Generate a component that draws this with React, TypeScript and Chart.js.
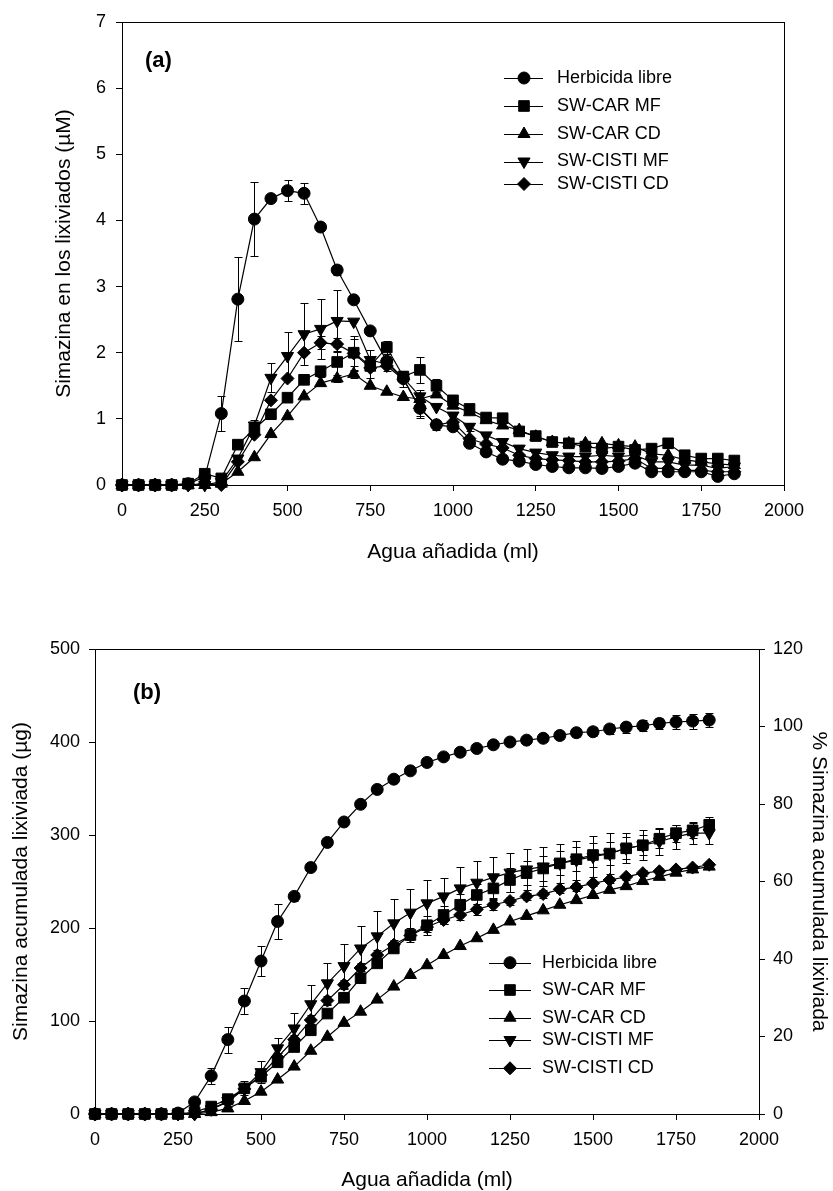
import React, { useEffect, useRef } from 'react';
import { Chart, registerables } from 'chart.js';
import { drawPoint } from 'chart.js/helpers';

Chart.register(...registerables);
Chart.defaults.font.family = '"Liberation Sans", Arial, Helvetica, sans-serif';
Chart.defaults.color = '#000';

// ---------------- data ----------------
const WATER_ML = [0, 50, 100, 150, 200, 250, 300, 350, 400, 450, 500, 550, 600, 650, 700, 750, 800, 850, 900, 950, 1000, 1050, 1100, 1150, 1200, 1250, 1300, 1350, 1400, 1450, 1500, 1550, 1600, 1650, 1700, 1750, 1800, 1850];

const SERIES_NAMES = ['Herbicida libre', 'SW-CAR MF', 'SW-CAR CD', 'SW-CISTI MF', 'SW-CISTI CD'];

const X_TICKS = [0, 250, 500, 750, 1000, 1250, 1500, 1750, 2000];
const Y_TICKS_A = [0, 1, 2, 3, 4, 5, 6, 7];
const Y_TICKS_B = [0, 100, 200, 300, 400, 500];
const Y2_TICKS_B = [0, 20, 40, 60, 80, 100, 120];

// Panel (a): Simazina en los lixiviados (µM)
const HERB_A = [0, 0, 0, 0, 0.02, 0.12, 1.08, 2.81, 4.02, 4.33, 4.45, 4.41, 3.9, 3.25, 2.8, 2.33, 1.87, 1.61, 1.16, 0.91, 0.88, 0.63, 0.5, 0.39, 0.36, 0.31, 0.28, 0.26, 0.26, 0.25, 0.28, 0.33, 0.2, 0.2, 0.2, 0.2, 0.13, 0.17];
const CARMF_A = [0, 0, 0, 0, 0.02, 0.17, 0.1, 0.61, 0.85, 1.07, 1.32, 1.59, 1.72, 1.86, 2.0, 1.8, 2.08, 1.64, 1.74, 1.5, 1.28, 1.15, 1.02, 1.01, 0.81, 0.74, 0.65, 0.63, 0.58, 0.55, 0.58, 0.53, 0.55, 0.63, 0.45, 0.4, 0.4, 0.37];
const CARCD_A = [0, 0, 0, 0, 0, 0, 0.02, 0.2, 0.42, 0.77, 1.04, 1.34, 1.54, 1.61, 1.68, 1.5, 1.41, 1.33, 1.3, 1.37, 1.2, 1.1, 0.98, 0.9, 0.83, 0.73, 0.65, 0.63, 0.63, 0.63, 0.6, 0.58, 0.47, 0.45, 0.38, 0.35, 0.32, 0.3];
const CISTIMF_A = [0, 0, 0, 0, 0, 0, 0.05, 0.4, 0.9, 1.62, 1.95, 2.28, 2.36, 2.48, 2.47, 1.89, 1.83, 1.62, 1.34, 1.18, 1.05, 0.88, 0.75, 0.65, 0.55, 0.49, 0.45, 0.43, 0.43, 0.45, 0.43, 0.45, 0.35, 0.35, 0.3, 0.3, 0.25, 0.28];
const CISTICD_A = [0, 0, 0, 0, 0, 0.02, 0, 0.35, 0.76, 1.28, 1.61, 2.0, 2.15, 2.13, 1.99, 1.77, 1.8, 1.6, 1.16, 0.91, 0.95, 0.7, 0.62, 0.56, 0.45, 0.4, 0.38, 0.37, 0.35, 0.35, 0.36, 0.4, 0.25, 0.25, 0.22, 0.22, 0.2, 0.2];

const HERB_A_ERR = [0, 0, 0, 0, 0, 0, 0.26, 0.63, 0.56, 0, 0.16, 0.16, 0, 0.07, 0, 0, 0, 0, 0.15, 0.08, 0, 0, 0, 0, 0, 0, 0, 0, 0, 0, 0, 0, 0, 0, 0, 0, 0, 0];
const CARMF_A_ERR = [0, 0, 0, 0, 0, 0, 0, 0, 0, 0, 0, 0, 0.08, 0.22, 0.2, 0, 0.1, 0, 0.2, 0.1, 0.08, 0.07, 0.07, 0.05, 0, 0, 0, 0, 0, 0, 0, 0, 0, 0.07, 0, 0, 0, 0];
const CARCD_A_ERR = [0, 0, 0, 0, 0, 0, 0, 0, 0, 0, 0, 0, 0, 0.06, 0.06, 0, 0, 0, 0, 0, 0, 0, 0, 0, 0, 0, 0, 0, 0, 0, 0, 0, 0, 0, 0, 0, 0, 0];
const CISTIMF_A_ERR = [0, 0, 0, 0, 0, 0, 0, 0, 0.08, 0.22, 0.36, 0.47, 0.45, 0.47, 0, 0.15, 0.1, 0, 0.1, 0, 0.05, 0.06, 0, 0, 0, 0, 0, 0, 0, 0, 0, 0, 0, 0, 0, 0, 0, 0];
const CISTICD_A_ERR = [0, 0, 0, 0, 0, 0, 0, 0, 0, 0, 0, 0, 0.1, 0.1, 0.26, 0.15, 0, 0.12, 0.12, 0, 0, 0, 0, 0, 0, 0, 0, 0, 0, 0, 0, 0, 0, 0, 0, 0, 0, 0];

// Panel (b): Simazina acumulada lixiviada (µg)
const HERB_B = [0, 0, 0, 0, 0, 1, 13, 41, 80, 121.5, 164.5, 207, 234, 265, 292, 314, 333, 349, 360, 369, 378, 384, 389, 393, 397, 400, 402, 404, 407, 410, 411, 414, 416, 417.5, 420, 421.5, 422.5, 423.6];
const CARMF_B = [0, 0, 0, 0, 0, 0, 2, 8, 16, 27.6, 40, 55.6, 72, 90, 108, 125, 146, 162, 178, 192.5, 203, 214, 225, 235.5, 242.6, 251.6, 259, 264, 269.5, 274, 278.5, 280, 285.7, 289, 296, 302, 305, 311];
const CARCD_B = [0, 0, 0, 0, 0, 0, 0, 2, 6, 14, 24, 37, 51, 68, 83, 98, 110, 123, 137, 149.5, 160, 171, 180.6, 189, 198, 207, 213, 219, 225, 230, 235.5, 241, 245, 250.5, 255, 259.5, 263, 266];
const CISTIMF_B = [0, 0, 0, 0, 0, 0, 0, 5, 14, 28, 45, 70.6, 92, 118, 140.5, 159, 178, 191, 205, 216.5, 226.5, 234, 242.6, 248.7, 254.5, 259.5, 263, 266, 269.5, 273, 276.7, 280, 285.7, 289, 293, 298, 302, 302];
const CISTICD_B = [0, 0, 0, 0, 0, 0, 0, 5, 13, 27, 42, 61, 80, 101, 122, 139, 157, 171, 182, 192, 201, 208.6, 214, 220, 225, 229, 234, 236.5, 241.6, 244, 248, 251.6, 255, 259, 261, 263, 265, 268];

const HERB_B_ERR = [0, 0, 0, 0, 0, 0, 0, 9, 14, 14, 16, 19, 5, 0, 0, 0, 0, 0, 0, 0, 0, 0, 0, 0, 0, 3, 3, 4, 4, 5, 5, 5, 6, 6, 6, 7, 8, 8];
const CARMF_B_ERR = [0, 0, 0, 0, 0, 0, 0, 0, 0, 0, 0, 0, 0, 0, 0, 0, 0, 0, 0, 8, 10, 10, 12, 12, 12, 13, 13, 13, 13, 13, 13, 12, 12, 11, 10, 9, 8, 8];
const CARCD_B_ERR = [0, 0, 0, 0, 0, 0, 0, 0, 0, 0, 0, 0, 0, 0, 0, 0, 0, 0, 0, 0, 0, 0, 0, 0, 0, 0, 0, 0, 0, 0, 0, 0, 0, 0, 0, 0, 0, 0];
const CISTIMF_B_ERR = [0, 0, 0, 0, 0, 0, 0, 4, 6, 8, 12, 11, 17, 21, 22, 24, 24, 27, 26, 25, 25, 20, 23, 23, 22, 21, 22, 21, 21, 21, 22, 22, 16, 16, 15, 13, 12, 12];
const CISTICD_B_ERR = [0, 0, 0, 0, 0, 0, 0, 0, 0, 0, 0, 5, 5, 5, 5, 5, 5, 5, 5, 5, 5, 4, 5, 6, 6, 4, 4, 4, 4, 4, 3, 3, 3, 3, 3, 3, 3, 3];

// ---------------- styling ----------------
const MARKERS = [
  { style: 'circle', radius: 6, rotation: 0 },
  { style: 'rect', radius: 7.5, rotation: 0 },
  { style: 'triangle', radius: 7, rotation: 0 },
  { style: 'triangle', radius: 7, rotation: 180 },
  { style: 'rectRot', radius: 6.5, rotation: 0 },
];

const TICK_FONT = { size: 18 };
const TITLE_FONT = { size: 21 };
const plainLabel = (v: any) => String(v);

function makeDatasets(series: number[][]) {
  return series.map((vals, k) => ({
    label: SERIES_NAMES[k],
    data: WATER_ML.map((x, i) => ({ x, y: vals[i] })),
    borderColor: '#000',
    backgroundColor: '#000',
    borderWidth: 1.2,
    pointStyle: MARKERS[k].style,
    pointRadius: MARKERS[k].radius,
    pointHoverRadius: MARKERS[k].radius,
    pointRotation: MARKERS[k].rotation,
    pointBackgroundColor: '#000',
    pointBorderColor: '#000',
    pointBorderWidth: 1,
    tension: 0,
    fill: false,
    clip: false,
    yAxisID: 'y',
  }));
}

function errorBarPlugin(errors: number[][]) {
  return {
    id: 'errorBars',
    beforeDatasetsDraw(chart: any) {
      const ctx = chart.ctx;
      const xs = chart.scales.x;
      const ys = chart.scales.y;
      ctx.save();
      ctx.strokeStyle = '#000';
      ctx.lineWidth = 1;
      errors.forEach((arr, di) => {
        const d = chart.data.datasets[di].data;
        arr.forEach((e, i) => {
          if (!e) return;
          const px = Math.round(xs.getPixelForValue(d[i].x)) + 0.5;
          const top = Math.round(ys.getPixelForValue(d[i].y + e)) + 0.5;
          const bot = Math.round(ys.getPixelForValue(Math.max(d[i].y - e, 0))) + 0.5;
          ctx.beginPath();
          ctx.moveTo(px, top);
          ctx.lineTo(px, bot);
          ctx.moveTo(px - 4, top);
          ctx.lineTo(px + 4, top);
          ctx.moveTo(px - 4, bot);
          ctx.lineTo(px + 4, bot);
          ctx.stroke();
        });
      });
      ctx.restore();
    },
  };
}

const framePlugin = {
  id: 'frame',
  beforeDatasetsDraw(chart: any) {
    const { left, right, top, bottom } = chart.chartArea;
    const ctx = chart.ctx;
    ctx.save();
    ctx.strokeStyle = '#000';
    ctx.lineWidth = 1;
    ctx.strokeRect(Math.round(left) + 0.5, Math.round(top) + 0.5, Math.round(right - left), Math.round(bottom - top));
    ctx.restore();
  },
};

function legendPlugin(pos: { lineX1: number; lineX2: number; markX: number; textX: number; rows: number[] }, tag: string, tagPos: { x: number; y: number }) {
  return {
    id: 'customLegend',
    afterDraw(chart: any) {
      const ctx = chart.ctx;
      ctx.save();
      ctx.fillStyle = '#000';
      ctx.strokeStyle = '#000';
      ctx.font = '18px "Liberation Sans", Arial, sans-serif';
      ctx.textBaseline = 'middle';
      ctx.textAlign = 'left';
      SERIES_NAMES.forEach((name, k) => {
        const y = pos.rows[k];
        ctx.lineWidth = 1.2;
        ctx.beginPath();
        ctx.moveTo(pos.lineX1, Math.round(y) + 0.5);
        ctx.lineTo(pos.lineX2, Math.round(y) + 0.5);
        ctx.stroke();
        ctx.lineWidth = 1;
        drawPoint(ctx, { pointStyle: MARKERS[k].style, radius: MARKERS[k].radius, rotation: MARKERS[k].rotation, borderWidth: 1 } as any, pos.markX, y);
        ctx.fillText(name, pos.textX, y);
      });
      ctx.font = 'bold 22px "Liberation Sans", Arial, sans-serif';
      ctx.fillText(tag, tagPos.x, tagPos.y);
      ctx.restore();
    },
  };
}

const axisGrid = { display: true, drawOnChartArea: false, drawTicks: true, tickLength: 6, color: '#000', tickColor: '#000', lineWidth: 1 };
const axisBorder = { display: true, color: '#000', width: 1 };

function configA(): any {
  return {
    type: 'line',
    data: { datasets: makeDatasets([HERB_A, CARMF_A, CARCD_A, CISTIMF_A, CISTICD_A]) },
    options: {
      animation: false,
      responsive: false,
      events: [],
      layout: { padding: { left: 0, top: 22, right: 49, bottom: 0 } },
      plugins: { legend: { display: false }, tooltip: { enabled: false } },
      scales: {
        x: {
          type: 'linear', min: 0, max: 2000,
          afterBuildTicks: (s: any) => { s.ticks = X_TICKS.map((v) => ({ value: v })); },
          ticks: { font: TICK_FONT, color: '#000', padding: 9, maxRotation: 0, autoSkip: false, callback: plainLabel },
          grid: axisGrid, border: axisBorder,
          title: { display: true, text: 'Agua añadida (ml)', font: TITLE_FONT, color: '#000', padding: { top: 0, bottom: 30 } },
          afterFit: (s: any) => { s.height = 110; },
        },
        y: {
          type: 'linear', min: 0, max: 7,
          afterBuildTicks: (s: any) => { s.ticks = Y_TICKS_A.map((v) => ({ value: v })); },
          ticks: { font: TICK_FONT, color: '#000', padding: 10, callback: plainLabel },
          grid: axisGrid, border: axisBorder,
          title: { display: true, text: 'Simazina en los lixiviados (µM)', font: TITLE_FONT, color: '#000', padding: { top: 52, bottom: 0 } },
          afterFit: (s: any) => { s.width = 122; },
        },
      },
    },
    plugins: [
      framePlugin,
      errorBarPlugin([HERB_A_ERR, CARMF_A_ERR, CARCD_A_ERR, CISTIMF_A_ERR, CISTICD_A_ERR]),
      legendPlugin({ lineX1: 504, lineX2: 543, markX: 524, textX: 557, rows: [78, 106, 134, 161.5, 184] }, '(a)', { x: 145, y: 61 }),
    ],
  };
}

function configB(): any {
  return {
    type: 'line',
    data: { datasets: makeDatasets([HERB_B, CARMF_B, CARCD_B, CISTIMF_B, CISTICD_B]) },
    options: {
      animation: false,
      responsive: false,
      events: [],
      layout: { padding: { left: 0, top: 54, right: 0, bottom: 0 } },
      plugins: { legend: { display: false }, tooltip: { enabled: false } },
      scales: {
        x: {
          type: 'linear', min: 0, max: 2000,
          afterBuildTicks: (s: any) => { s.ticks = X_TICKS.map((v) => ({ value: v })); },
          ticks: { font: TICK_FONT, color: '#000', padding: 9, maxRotation: 0, autoSkip: false, callback: plainLabel },
          grid: axisGrid, border: axisBorder,
          title: { display: true, text: 'Agua añadida (ml)', font: TITLE_FONT, color: '#000', padding: { top: 0, bottom: 2.4 } },
          afterFit: (s: any) => { s.height = 81; },
        },
        y: {
          type: 'linear', position: 'left', min: 0, max: 500,
          afterBuildTicks: (s: any) => { s.ticks = Y_TICKS_B.map((v) => ({ value: v })); },
          ticks: { font: TICK_FONT, color: '#000', padding: 9, callback: plainLabel },
          grid: axisGrid, border: axisBorder,
          title: { display: true, text: 'Simazina acumulada lixiviada (µg)', font: TITLE_FONT, color: '#000', padding: { top: 8.4, bottom: 0 } },
          afterFit: (s: any) => { s.width = 95; },
        },
        y2: {
          type: 'linear', position: 'right', min: 0, max: 120,
          afterBuildTicks: (s: any) => { s.ticks = Y2_TICKS_B.map((v) => ({ value: v })); },
          ticks: { font: TICK_FONT, color: '#000', padding: 8, callback: plainLabel },
          grid: axisGrid, border: axisBorder,
          title: { display: true, text: '% Simazina acumulada lixiviada', font: TITLE_FONT, color: '#000', padding: { top: 1.4, bottom: 0 } },
          afterFit: (s: any) => { s.width = 74; },
        },
      },
    },
    plugins: [
      framePlugin,
      errorBarPlugin([HERB_B_ERR, CARMF_B_ERR, CARCD_B_ERR, CISTIMF_B_ERR, CISTICD_B_ERR]),
      legendPlugin({ lineX1: 489, lineX2: 531, markX: 510, textX: 542, rows: [367.7, 395, 422.7, 445, 473.3] }, '(b)', { x: 133, y: 98 }),
    ],
  };
}

function Panel({ makeConfig, top, height }: { makeConfig: () => any; top: number; height: number }) {
  const ref = useRef<HTMLCanvasElement>(null);
  useEffect(() => {
    const chart = new Chart(ref.current as HTMLCanvasElement, makeConfig());
    return () => chart.destroy();
  }, []);
  return (
    <canvas
      ref={ref}
      width={833}
      height={height}
      style={{ position: 'absolute', left: 0, top, width: 833, height, display: 'block' }}
    />
  );
}

export default function App() {
  return (
    <div style={{ position: 'absolute', left: 0, top: 0, width: 833, height: 1191, overflow: 'hidden', background: '#fff' }}>
      <Panel makeConfig={configA} top={0} height={595} />
      <Panel makeConfig={configB} top={595} height={600} />
    </div>
  );
}
